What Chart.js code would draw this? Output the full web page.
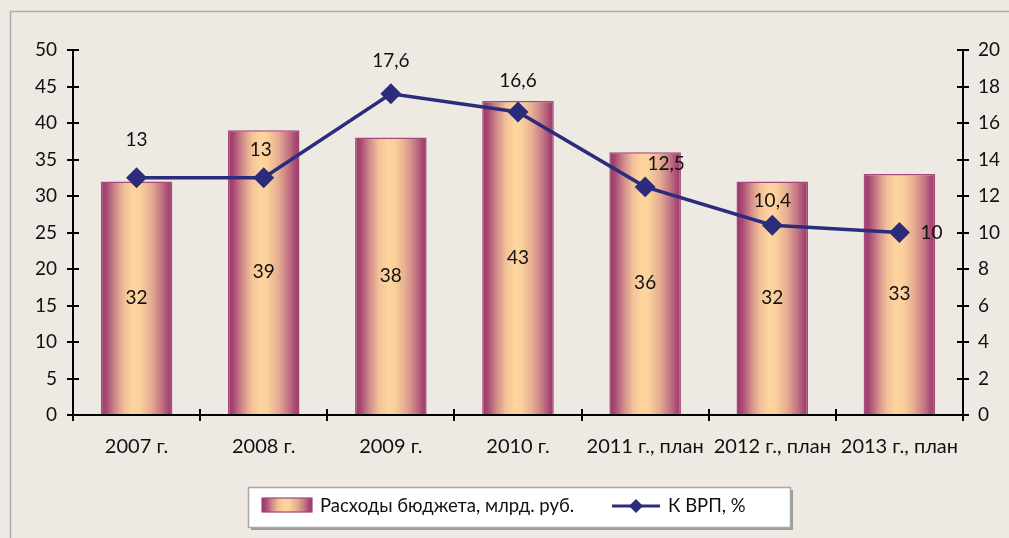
<!DOCTYPE html>
<html><head><meta charset="utf-8">
<script src="https://cdn.jsdelivr.net/npm/chart.js@4"></script>
<style>html,body{margin:0;padding:0;background:#EEEAE3;overflow:hidden}#wrap{width:1009px;height:538px;position:relative}</style>
</head><body><div id="wrap"><canvas id="c" width="1009" height="538"></canvas></div>
<script>
// ---- data ----
const categories = ['2007 г.', '2008 г.', '2009 г.', '2010 г.', '2011 г., план', '2012 г., план', '2013 г., план'];
const budget = [32, 39, 38, 43, 36, 32, 33];
const gdpShare = [13, 13, 17.6, 16.6, 12.5, 10.4, 10];
const gdpShareLabels = ['13', '13', '17,6', '16,6', '12,5', '10,4', '10'];
const budgetLabel = 'Расходы бюджета, млрд. руб.';
const gdpLabel = 'К ВРП, %';
const leftAxis = {min: 0, max: 50, step: 5};
const rightAxis = {min: 0, max: 20, step: 2};

// ---- styles ----
const FONT = 'Lato, "Open Sans", sans-serif';
const LINE_COLOR = '#2C2C7C';
const BAR_FRAC = 0.563;
const lineLabelOffsets = [[0,-38],[-3,-28],[0,-33],[0,-31],[21,-23],[0,-24],[32,0]];

function barGradient(ctx, x0, x1) {
  const g = ctx.createLinearGradient(x0, 0, x1, 0);
  g.addColorStop(0, '#993468');
  g.addColorStop(0.08, '#A84A74');
  g.addColorStop(0.2, '#D08A8A');
  g.addColorStop(0.33, '#F2C198');
  g.addColorStop(0.45, '#FDD49E');
  g.addColorStop(0.55, '#FBD09C');
  g.addColorStop(0.7, '#E6AE92');
  g.addColorStop(0.85, '#C47484');
  g.addColorStop(0.93, '#AA4E76');
  g.addColorStop(1, '#9A3668');
  return g;
}

const decor = {
  id: 'decor',
  beforeDraw(chart) {
    const c = chart.ctx;
    c.save();
    c.fillStyle = '#EEEAE3';
    c.fillRect(0, 0, chart.width, chart.height);
    c.strokeStyle = '#ABABAB';
    c.lineWidth = 1.5;
    c.strokeRect(10.5, 11.5, 1100, 1000);
    c.restore();
  },
  afterDatasetsDraw(chart) {
    const c = chart.ctx;
    c.save();
    c.font = '19px ' + FONT;
    c.fillStyle = '#111';
    c.textAlign = 'center';
    c.textBaseline = 'middle';
    const bars = chart.getDatasetMeta(0).data;
    bars.forEach((b, i) => {
      c.fillText(String(budget[i]), b.x, (b.y + b.base) / 2);
    });
    const pts = chart.getDatasetMeta(1).data;
    pts.forEach((p, i) => {
      const o = lineLabelOffsets[i];
      c.fillText(gdpShareLabels[i], p.x + o[0], p.y + o[1]);
    });
    // inward tick marks
    c.strokeStyle = '#000';
    c.lineWidth = 2;
    const ya = chart.scales.y, yb = chart.scales.y1;
    const ca = chart.chartArea;
    c.beginPath();
    ya.ticks.forEach(t => { const y = Math.round(ya.getPixelForValue(t.value)); c.moveTo(ca.left, y); c.lineTo(ca.left + 6, y); });
    yb.ticks.forEach(t => { const y = Math.round(yb.getPixelForValue(t.value)); c.moveTo(ca.right, y); c.lineTo(ca.right - 6, y); });
    const cw = (ca.right - ca.left) / categories.length;
    for (let i = 1; i < categories.length; i++) { const x = Math.round(ca.left + i * cw); c.moveTo(x, ca.bottom); c.lineTo(x, ca.bottom - 6); }
    c.stroke();
    c.restore();
  },
  afterDraw(chart) {
    const c = chart.ctx;
    c.save();
    const L = 248, T = 487, W = 542, H = 40;
    c.fillStyle = '#9C9C9C';
    c.fillRect(L + 3, T + 3, W, H);
    c.fillStyle = '#FFFFFF';
    c.fillRect(L, T, W, H);
    c.strokeStyle = '#A8A8A8';
    c.lineWidth = 1.5;
    c.strokeRect(L + 0.5, T + 0.5, W, H);
    // bar swatch
    c.fillStyle = barGradient(c, 262, 312);
    c.fillRect(262, 498, 50, 14);
    c.strokeStyle = '#A04777';
    c.lineWidth = 1.2;
    c.strokeRect(262, 498, 50, 14);
    c.font = '18.5px ' + FONT;
    c.fillStyle = '#111';
    c.textBaseline = 'middle';
    c.textAlign = 'left';
    c.fillText(budgetLabel, 320, 506);
    // line swatch
    c.strokeStyle = LINE_COLOR;
    c.lineWidth = 3;
    c.beginPath(); c.moveTo(612, 506); c.lineTo(660, 506); c.stroke();
    c.fillStyle = LINE_COLOR;
    c.beginPath(); c.moveTo(636, 499); c.lineTo(643, 506); c.lineTo(636, 513); c.lineTo(629, 506); c.closePath(); c.fill();
    c.fillStyle = '#111';
    c.fillText(gdpLabel, 668, 506);
    c.restore();
  }
};

new Chart(document.getElementById('c'), {
  data: {
    labels: categories,
    datasets: [
      {
        type: 'bar',
        label: budgetLabel,
        data: budget,
        yAxisID: 'y',
        order: 2,
        categoryPercentage: 1,
        barPercentage: BAR_FRAC,
        borderColor: '#A5487A',
        borderWidth: 1.5,
        borderSkipped: 'bottom',
        backgroundColor: (ctx) => {
          const chart = ctx.chart;
          if (ctx.type !== 'data' || !chart.chartArea) return '#F2C198';
          const xs = chart.scales.x;
          const x = xs.getPixelForValue(ctx.dataIndex);
          const w = (chart.chartArea.right - chart.chartArea.left) / categories.length * BAR_FRAC;
          return barGradient(chart.ctx, x - w / 2, x + w / 2);
        }
      },
      {
        type: 'line',
        label: gdpLabel,
        data: gdpShare,
        yAxisID: 'y1',
        order: 1,
        borderColor: LINE_COLOR,
        backgroundColor: LINE_COLOR,
        borderWidth: 3.5,
        tension: 0,
        pointStyle: 'rectRot',
        pointRadius: 8,
        pointHoverRadius: 8,
        pointBackgroundColor: LINE_COLOR,
        pointBorderColor: LINE_COLOR,
        fill: false
      }
    ]
  },
  options: {
    responsive: false,
    animation: false,
    events: [],
    layout: {padding: {top: 50, bottom: 0, left: 0, right: 0}},
    plugins: {legend: {display: false}, tooltip: {enabled: false}},
    scales: {
      x: {
        offset: true,
        grid: {display: true, offset: true, drawOnChartArea: false, drawTicks: true, tickLength: 6, color: '#000', lineWidth: 2},
        border: {display: true, color: '#000', width: 2},
        ticks: {color: '#111', font: {family: FONT, size: 20}, padding: 14, maxRotation: 0, autoSkip: false},
        afterFit(s) { s.height = 123; }
      },
      y: {
        position: 'left',
        min: leftAxis.min, max: leftAxis.max,
        grid: {display: true, drawOnChartArea: false, drawTicks: true, tickLength: 6, color: '#000', lineWidth: 2},
        border: {display: true, color: '#000', width: 2},
        ticks: {stepSize: leftAxis.step, color: '#111', font: {family: FONT, size: 19}, padding: 10},
        afterFit(s) { s.width = 73; }
      },
      y1: {
        position: 'right',
        min: rightAxis.min, max: rightAxis.max,
        grid: {display: true, drawOnChartArea: false, drawTicks: true, tickLength: 6, color: '#000', lineWidth: 2},
        border: {display: true, color: '#000', width: 2},
        ticks: {stepSize: rightAxis.step, color: '#111', font: {family: FONT, size: 19}, padding: 9},
        afterFit(s) { s.width = 46; }
      }
    }
  },
  plugins: [decor]
});
</script>
</body></html>
